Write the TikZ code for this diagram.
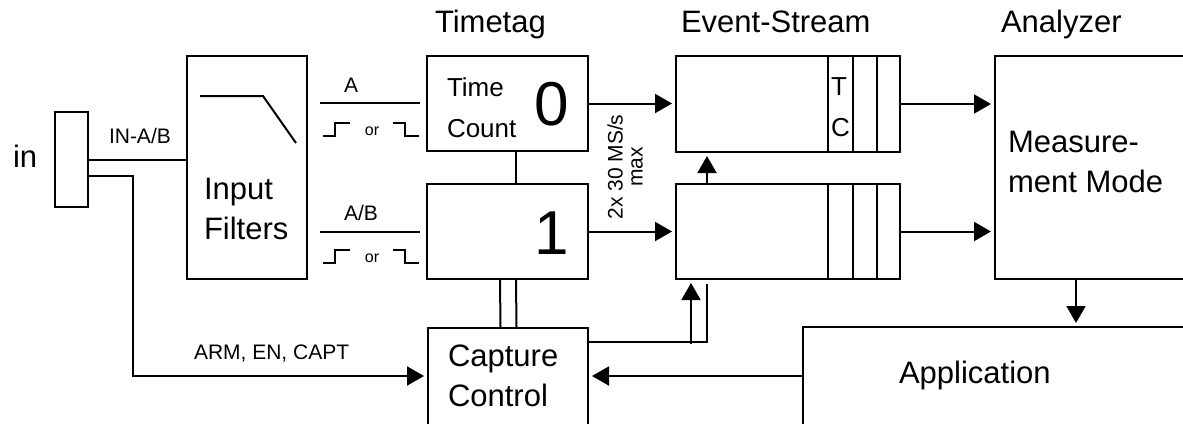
\documentclass[tikz,border=0pt]{standalone}
\usepackage{fontspec}
\setmainfont{Liberation Sans}
\usetikzlibrary{arrows.meta}

\begin{document}
\begin{tikzpicture}[x=1pt,y=-1pt,line width=2pt,
  blk/.style={draw,line width=2pt,inner sep=0pt},
  lbl/.style={inner sep=0pt,anchor=base west},
  txt/.style={inner sep=0pt,anchor=north west,align=left},
  big/.style={font=\fontsize{31}{40}\selectfont},
  mid/.style={font=\fontsize{26}{41}\selectfont},
  sml/.style={font=\fontsize{21}{20}\selectfont},
  digit/.style={inner sep=0pt,font=\fontsize{62}{62}\selectfont},
  arr/.style={-{Triangle[length=17pt,width=19pt]},shorten >=3pt},
]
  \clip (0,0) rectangle (1183,423);
  % blocks
  \node[blk,minimum width=33pt,minimum height=95pt] (conn) at (71.5,159.5) {};
  \node[blk,minimum width=120pt,minimum height=223pt] (filt) at (247,167.5) {};
  \node[blk,minimum width=161pt,minimum height=95pt] (tt0) at (507.5,103.5) {};
  \node[blk,minimum width=161pt,minimum height=95pt] (tt1) at (507.5,231.5) {};
  \node[blk,minimum width=224pt,minimum height=96pt] (ev0) at (788,104) {};
  \node[blk,minimum width=224pt,minimum height=95pt] (ev1) at (788,231.5) {};
  \node[blk,minimum width=220pt,minimum height=223pt] (ana) at (1105,167.5) {};
  \node[blk,minimum width=160pt,minimum height=130pt] (cap) at (508,393) {};
  \node[blk,minimum width=420pt,minimum height=130pt] (app) at (1013,392) {};

  % queue slots
  \foreach \dx in {-73,-48,-24} {
    \draw ([xshift=\dx pt]ev0.north east) -- ([xshift=\dx pt]ev0.south east);
    \draw ([xshift=\dx pt]ev1.north east) -- ([xshift=\dx pt]ev1.south east);
  }

  % filter curve
  \draw (200,96) -- (263,96) -- (296,143);

  % signal lines and edges
  \foreach \y in {103,232}
    \draw (320,\y) -- (420,\y);
  \foreach \y/\n in {136/a,263/b} {
    \draw (323,\y) -- (335,\y) -- (335,\y-13) -- (350,\y-13);
    \draw (393,\y-13) -- (405,\y-13) -- (405,\y) -- (419,\y);
    \node[inner sep=0pt,font=\fontsize{16}{16}\selectfont] (or\n) at (372,\y-5) {or};
  }

  % connections
  \draw (conn.east) -- (conn.east -| filt.west);
  \draw[arr] ([yshift=-16pt]conn.east) -- ++(44,0) |- ([yshift=17pt]cap.west);
  \draw[arr] (tt0.east) -- (tt0.east -| ev0.west);
  \draw[arr] (tt1.east) -- (tt1.east -| ev1.west);
  \draw ([xshift=8.5pt]tt0.south) -- ([xshift=8.5pt]tt1.north);
  \foreach \dx in {-7.5,8.5}
    \draw ([xshift=\dx pt]tt1.south) -- ([xshift=\dx pt]cap.north);
  \draw[arr] ([xshift=32pt]ev1.north west) -- ([xshift=32pt]ev0.south west);
  \draw ([yshift=-15pt]cap.north east) -| ([xshift=32pt,yshift=-4pt]ev1.south west);
  \draw[arr] ([xshift=16pt,yshift=-64pt]ev1.south west) -- ([xshift=16pt]ev1.south west);
  \draw[arr] (ev0.east) -- (ev0.east -| ana.west);
  \draw[arr] (ev1.east) -- (ev1.east -| ana.west);
  \draw[arr] ([xshift=-29pt]ana.south) -- ([xshift=63pt]app.north);
  \draw[arr] ([yshift=16pt]app.west) -- ([yshift=17pt]cap.east);

  % labels
  \node[lbl,big] (ttl1) at (434,32) {Timetag};
  \node[lbl,big] (ttl2) at (680,32) {Event-Stream};
  \node[lbl,big] (ttl3) at (1000,32) {Analyzer};
  \node[lbl,big] (inlbl) at (12,167) {in};
  \node[lbl,sml] (inab) at (108,143) {IN-A/B};
  \node[txt,big] (filttxt) at (203,177) {Input\\Filters};
  \node[lbl,sml] (siga) at (343,92) {A};
  \node[lbl,sml] (sigab) at (343,220) {A/B};
  \node[txt,mid] (tctxt) at (446,76.5) {Time\\Count};
  \node[digit] (zero) at (552,104.5) {0};
  \node[digit] (one) at (552,233) {1};
  \node[sml,inner sep=0pt,rotate=90,align=center] (rate) at (625,167) {2x 30 MS/s\\max};
  \node[txt,mid] (tclbl) at (830,77) {T\\C};
  \node[txt,big] (mode) at (1007,130) {Measure-\\ment Mode};
  \node[txt,big] (captxt) at (447,344) {Capture\\Control};
  \node[lbl,sml] (arm) at (193,359) {ARM, EN, CAPT};
  \node[lbl,big] (apptxt) at (898,383) {Application};
\end{tikzpicture}
\end{document}
